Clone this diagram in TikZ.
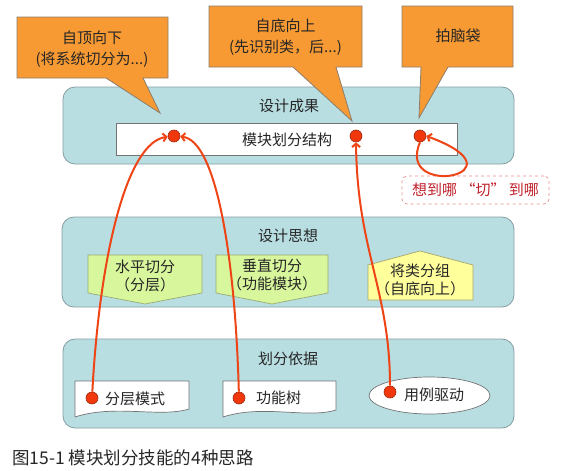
\documentclass[tikz,border=0pt]{standalone}
\usepackage{fontspec}
\setmainfont{Noto Sans CJK SC}
\usetikzlibrary{arrows.meta,shapes.geometric}
\definecolor{panelblue}{HTML}{B8DEE2}
\definecolor{panelline}{HTML}{859EA2}
\definecolor{calloutfill}{HTML}{F79A33}
\definecolor{calloutline}{HTML}{8C7D6C}
\definecolor{pathred}{HTML}{EE4416}
\definecolor{dotred}{HTML}{F0380C}
\definecolor{dotline}{HTML}{9E2A14}
\definecolor{ideagreen}{HTML}{D8F69C}
\definecolor{greenline}{HTML}{98AC74}
\definecolor{ideayellow}{HTML}{FFFF9C}
\definecolor{yellowline}{HTML}{A8A66C}
\definecolor{noteline}{HTML}{E88C8C}
\definecolor{notetext}{HTML}{C0202A}
\begin{document}
\begin{tikzpicture}[x=1pt,y=-1pt,
  panel/.style={draw=panelline,fill=panelblue,line width=0.8pt,rounded corners=12pt},
  callout/.style={draw=calloutline,fill=calloutfill,line width=0.8pt},
  txt/.style={font=\fontsize{15}{21}\selectfont,align=center,inner sep=0pt,text=black!85},
  idea/.style={font=\fontsize{15}{18}\selectfont,align=center,inner sep=0pt,text=black!85},
  doc/.style={draw=black!55,fill=white,line width=0.7pt},
  dot/.style={circle,draw=dotline,fill=dotred,line width=0.6pt,minimum size=12pt,inner sep=0pt},
  link/.style={draw=pathred,line width=2pt,-{Straight Barb[length=3.5pt,width=8pt]}}]
  \useasboundingbox (0,0) rectangle (571,471);

  % three layers
  \draw[panel] (63,87) rectangle (514,164);
  \draw[panel] (62,217) rectangle (514,307);
  \draw[panel] (63,339) rectangle (514,428);
  \node[txt] (results) at (289,106) {设计成果};
  \node[txt] (ideas) at (288,236) {设计思想};
  \node[txt] (basis) at (288,359) {划分依据};

  % result: module structure
  \draw[draw=black!55,fill=white,line width=0.7pt] (116,123) rectangle (457,155);
  \node[txt] (structure) at (287,140) {模块划分结构};

  % ideas
  \draw[draw=greenline,fill=ideagreen,line width=0.7pt]
    (88,255) -- (202,255) -- (202,293) -- (145,304) -- (88,293) -- cycle;
  \draw[draw=greenline,fill=ideagreen,line width=0.7pt]
    (216,255) -- (328,255) -- (328,293) -- (272,304) -- (216,293) -- cycle;
  \draw[draw=yellowline,fill=ideayellow,line width=0.7pt]
    (368,265) -- (420,251) -- (473,265) -- (473,300) -- (368,300) -- cycle;
  \node[idea] (horiz) at (145,276) {水平切分\\（分层）};
  \node[idea] (vert) at (272,275) {垂直切分\\（功能模块）};
  \node[idea] (grouping) at (420,280) {将类分组\\（自底向上）};

  % basis
  \draw[doc] (75,381) -- (189,381) -- (189,409)
    .. controls (160,418) and (115,404) .. (75,417) -- cycle;
  \draw[doc] (223,381) -- (336,381) -- (336,410)
    .. controls (307,419) and (263,404) .. (223,417) -- cycle;
  \node[ellipse,draw=black!55,fill=white,line width=0.7pt,
    minimum width=121,minimum height=37] (usecaseshape) at (429.5,395.5) {};
  \node[txt] (layered) at (135,399) {分层模式};
  \node[txt] (functree) at (278.5,398) {功能树};
  \node[txt] (usecase) at (434,395) {用例驱动};

  % callouts
  \draw[callout] (17,17) -- (168,17) -- (168,78) -- (143,78) -- (160,113)
    -- (106,78) -- (17,78) -- cycle;
  \draw[callout] (209,6) -- (362,6) -- (362,67) -- (336,67) -- (352,121)
    -- (293,67) -- (209,67) -- cycle;
  \draw[callout] (402,6) -- (513,6) -- (513,67) -- (448,67) -- (419,118)
    -- (421,67) -- (402,67) -- cycle;
  \node[txt] (topdown) at (92,49) {自顶向下\\(将系统切分为...)};
  \node[txt] (bottomup) at (285.5,37) {自底向上\\(先识别类，后...)};
  \node[txt] (brainstorm) at (458,36) {拍脑袋};

  % note
  \node[draw=noteline,dashed,rounded corners=5pt,line width=0.7pt,fill=white,
    minimum width=147,minimum height=28,text=notetext,
    font=\fontsize{15}{18}\selectfont] (note) at (475.5,190) {想到哪\ “切”\ 到哪};

  % dots
  \node[dot] (d1) at (174,136) {};
  \node[dot] (d2) at (356,136) {};
  \node[dot] (d3) at (420,136) {};
  \node[dot] (p1) at (92,398) {};
  \node[dot] (p2) at (239,398) {};
  \node[dot] (p3) at (390,392) {};

  % paths
  \draw[link] (p1) .. controls (100,250) and (128,142) .. (d1);
  \draw[link] (p2) .. controls (235,250) and (215,140) .. (d1);
  \draw[link] (p3) .. controls (390,290) and (357,250) .. (d2);
  \draw[link] (d3.south) .. controls (395,200) and (530,174) .. (d3.east);

  \node[anchor=west,inner sep=0pt,font=\fontsize{17.5}{20}\selectfont,text=black!85]
    (caption) at (12,458) {图15-1 模块划分技能的4种思路};
\end{tikzpicture}
\end{document}
